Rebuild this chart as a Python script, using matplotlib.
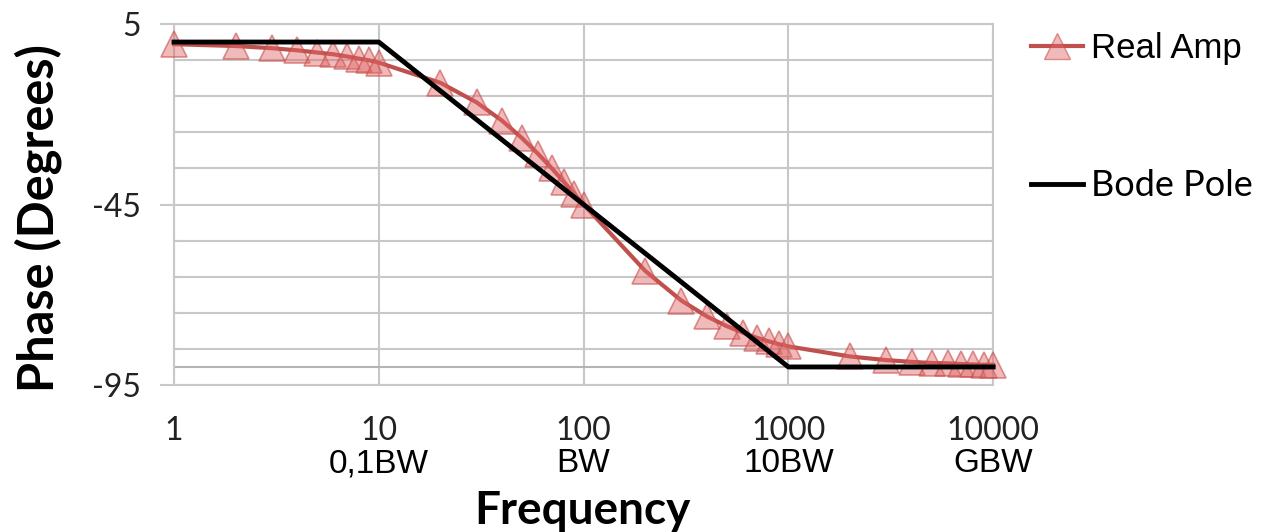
import matplotlib.pyplot as plt
from matplotlib.lines import Line2D
from matplotlib.transforms import blended_transform_factory

# data
freq = [1, 2, 3, 4, 5, 6, 7, 8, 9, 10,
        20, 30, 40, 50, 60, 70, 80, 90, 100,
        200, 300, 400, 500, 600, 700, 800, 900, 1000,
        2000, 3000, 4000, 5000, 6000, 7000, 8000, 9000, 10000]
real_amp = [-0.6, -1.1, -1.7, -2.3, -2.9, -3.4, -4.0, -4.6, -5.1, -5.7,
            -11.3, -16.7, -21.8, -26.6, -31.0, -35.0, -38.7, -42.0, -45.0,
            -63.4, -71.6, -76.0, -78.7, -80.5, -81.9, -82.9, -83.7, -84.3,
            -87.1, -88.1, -88.6, -88.9, -89.0, -89.2, -89.3, -89.4, -89.4]
bode_freq = [1, 10, 1000, 10000]
bode_phase = [0, 0, -90, -90]

x_ticks = [1, 10, 100, 1000, 10000]
x_tick_labels = ["1", "10", "100", "1000", "10000"]
x_sub_labels = ["", "0,1BW", "BW", "10BW", "GBW"]
y_ticks = [5, -45, -95]

red = "#c0504d"
grid = "#c8c8c8"
face = (0.88, 0.40, 0.40, 0.45)
edge = (0.78, 0.31, 0.30, 0.6)

fig = plt.figure(figsize=(12.72, 5.32), dpi=100)
ax = fig.add_axes([0.1368, 0.2763, 0.644, 0.6786])

ax.plot(freq, real_amp, color=red, lw=3, marker="^", markersize=19,
        markerfacecolor=face, markeredgecolor=edge, markeredgewidth=1.2,
        label="Real Amp", zorder=3, clip_on=False)
ax.plot(bode_freq, bode_phase, color="black", lw=3.5, label="Bode Pole",
        zorder=4, clip_on=False)

ax.set_xscale("log")
ax.set_xlim(1, 10000)
ax.set_ylim(-95, 5)
ax.set_xticks(x_ticks)
ax.set_xticklabels(x_tick_labels, family="Lato", fontsize=23, color="#222222")
ax.minorticks_off()
ax.set_yticks(y_ticks)
ax.set_yticklabels([str(v) for v in y_ticks], family="Lato", fontsize=23,
                   color="#222222")
ax.set_yticks(list(range(-85, 5, 10)), minor=True)
ax.tick_params(axis="y", which="major", direction="out", length=10,
               color=grid, width=1.5, pad=14)
ax.tick_params(axis="y", which="minor", direction="in", length=5,
               color=grid, width=1.5)
ax.tick_params(axis="x", which="major", length=0, pad=22)
ax.grid(True, which="both", color=grid, lw=1.5, zorder=0)
ax.axhline(-90, color="#b4b4b4", lw=1.5, zorder=1)
ax.set_axisbelow(True)
for side in ["left", "right", "top", "bottom"]:
    ax.spines[side].set_color(grid)
    ax.spines[side].set_linewidth(1.5)

trans = blended_transform_factory(ax.transData, ax.transAxes)
for xv, lab in zip(x_ticks, x_sub_labels):
    if lab:
        ax.text(xv, -0.175, lab, transform=trans, ha="center", va="top",
                family="Liberation Sans", fontsize=24)

fig.text(0.458, 0.04, "Frequency", ha="center", va="center",
         family="Lato", fontweight="bold", fontsize=33)
fig.text(0.03, 0.59, "Phase (Degrees)", ha="center", va="center",
         rotation=90, family="Lato", fontweight="bold", fontsize=35)

handles = [
    Line2D([], [], color=red, lw=3, marker="^", markersize=19,
           markerfacecolor=face, markeredgecolor=edge),
    Line2D([], [], color="black", lw=3.5),
]
leg = fig.legend(handles, ["Real Amp", "Bode Pole"], loc="upper left",
                 bbox_to_anchor=(0.797, 0.972), frameon=False, borderpad=0,
                 handlelength=1.5, handletextpad=0.22, labelspacing=3.0,
                 prop={"family": "Liberation Sans", "size": 25})
leg.get_texts()[1].set_family("Lato")
leg.get_texts()[1].set_fontsize(26)

fig.savefig("out.png", dpi=100)
